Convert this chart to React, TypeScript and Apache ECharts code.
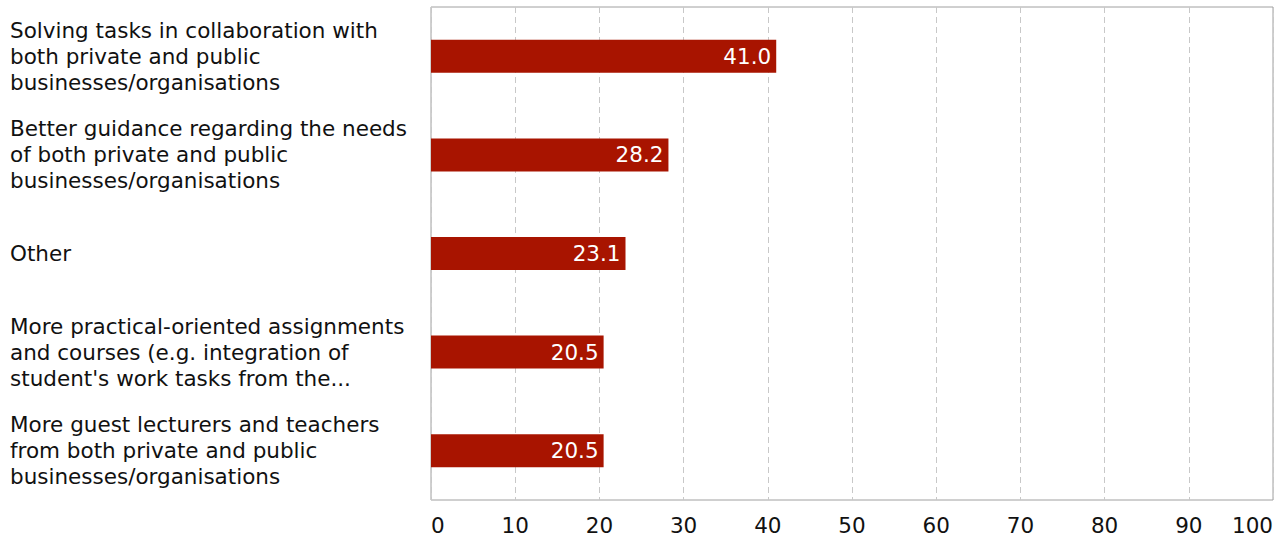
import React, { useEffect, useRef } from "react";
import * as echarts from "echarts";

const categories = [
  "Solving tasks in collaboration with\nboth private and public\nbusinesses/organisations",
  "Better guidance regarding the needs\nof both private and public\nbusinesses/organisations",
  "Other",
  "More practical-oriented assignments\nand courses (e.g. integration of\nstudent's work tasks from the...",
  "More guest lecturers and teachers\nfrom both private and public\nbusinesses/organisations",
];
const values = [41.0, 28.2, 23.1, 20.5, 20.5];
const xTicks = { min: 0, max: 100, interval: 10 };

export default function App() {
  const ref = useRef<HTMLDivElement>(null);
  useEffect(() => {
    if (!ref.current) return;
    const chart = echarts.init(ref.current, undefined, { renderer: "svg" });
    const font = "'DejaVu Sans', Verdana, sans-serif";
    chart.setOption({
      animation: false,
      grid: {
        left: 431,
        right: 13,
        top: 7,
        bottom: 51,
        show: true,
        borderColor: "#a0a0a0",
        borderWidth: 1,
        containLabel: false,
      },
      xAxis: {
        type: "value",
        min: xTicks.min,
        max: xTicks.max,
        interval: xTicks.interval,
        axisLine: { show: false },
        axisTick: { show: false },
        splitLine: { show: true, lineStyle: { color: "#c8c8c8", type: [6, 4] } },
        axisLabel: {
          color: "#111",
          fontFamily: font,
          fontSize: 21.5,
          margin: 14,
          alignMinLabel: "left",
          alignMaxLabel: "right",
        },
      },
      yAxis: {
        type: "category",
        data: categories,
        inverse: true,
        axisLine: { show: false },
        axisTick: { show: false },
        axisLabel: {
          color: "#111",
          fontFamily: font,
          fontSize: 21.5,
          lineHeight: 26,
          align: "left",
          margin: 421,
          padding: [4, 0, 0, 0],
        },
      },
      series: [
        {
          type: "bar",
          data: values,
          barWidth: 33,
          itemStyle: { color: "#a81400" },
          label: {
            show: true,
            position: "insideRight",
            color: "#fff",
            fontFamily: font,
            fontSize: 21.5,
            distance: 5,
            formatter: (p: any) => Number(p.value).toFixed(1),
          },
        },
      ],
    });
    return () => chart.dispose();
  }, []);
  return (
    <div
      ref={ref}
      style={{ position: "fixed", left: 0, top: 0, width: 1286, height: 551, background: "#fff" }}
    />
  );
}
